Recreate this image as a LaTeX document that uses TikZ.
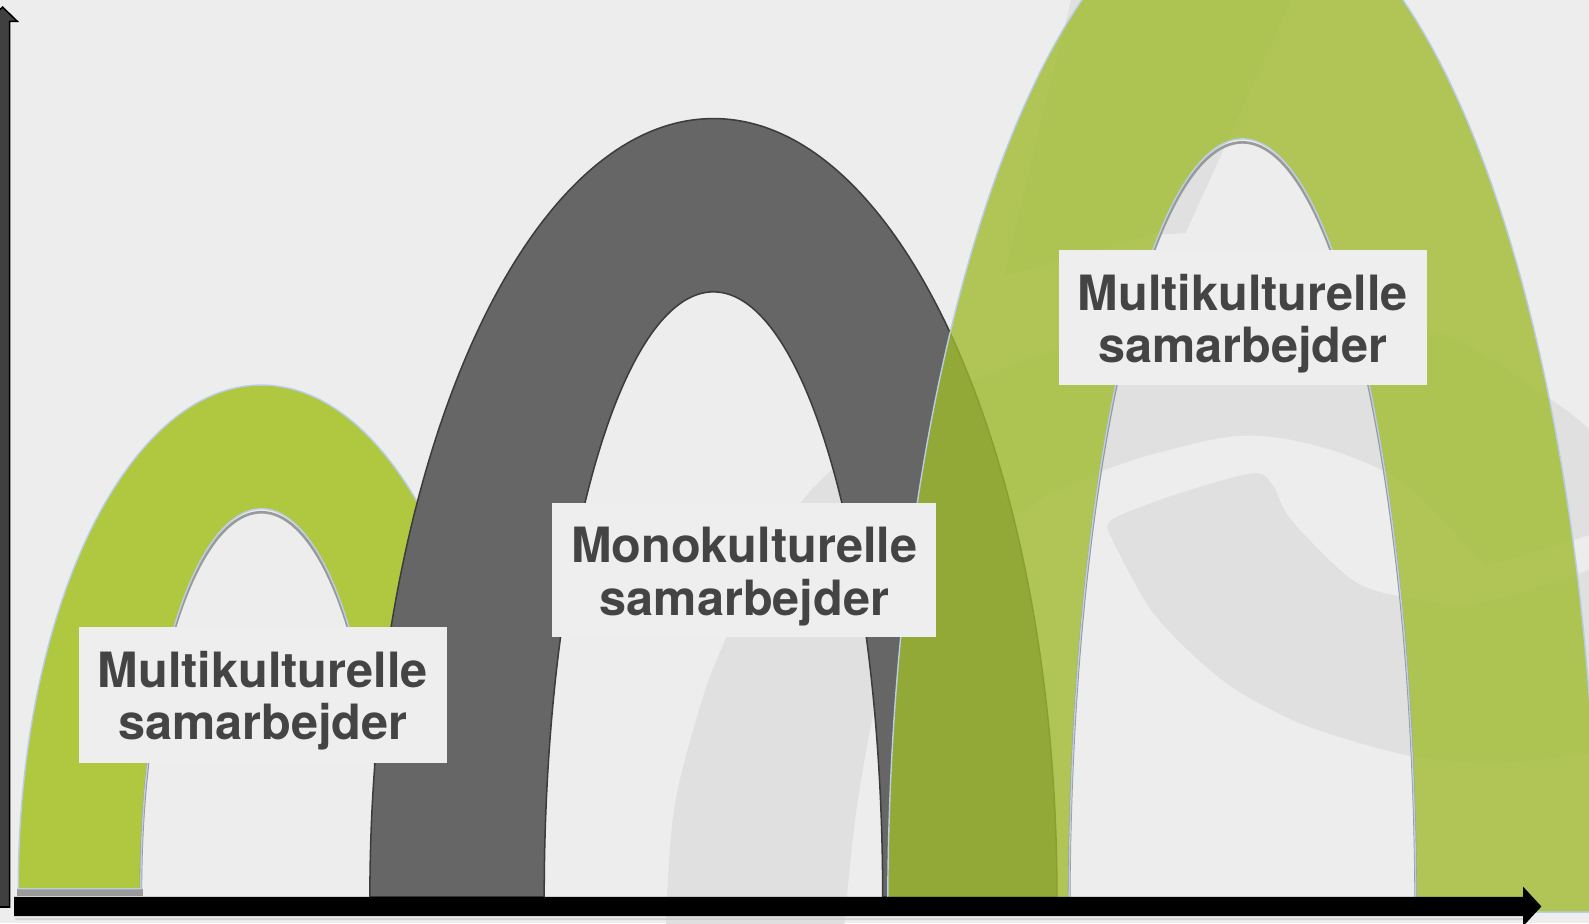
\documentclass[tikz,border=0pt]{standalone}
\usepackage{fontspec}
\setmainfont{TeX Gyre Heros}
\usetikzlibrary{arrows.meta}
\definecolor{bgc}{HTML}{EDEDED}
\definecolor{wmc}{HTML}{E0E0E0}
\definecolor{gleft}{HTML}{AFC840}
\definecolor{gright}{HTML}{9FBB2B}
\definecolor{archgray}{HTML}{666666}
\definecolor{archline}{HTML}{3C3C3C}
\definecolor{edgeblue}{HTML}{B9CDE5}
\definecolor{shadowc}{HTML}{9A9A9A}
\definecolor{boxc}{HTML}{EEEEEE}
\definecolor{txtc}{HTML}{444444}
\definecolor{axisc}{HTML}{404040}
\def\archL{(18,34) arc[start angle=180,end angle=0,x radius=240,y radius=497] -- (377,34) arc[start angle=0,end angle=180,x radius=119,y radius=375] -- cycle}
\def\archM{(365,26) arc[start angle=180,end angle=0,x radius=339,y radius=768] -- (871,26) arc[start angle=0,end angle=180,x radius=167,y radius=597] -- cycle}
\def\archR{(876,11) arc[start angle=180,end angle=0,x radius=350,y radius=1009] -- (1397,11) arc[start angle=0,end angle=180,x radius=171,y radius=763] -- cycle}
\begin{document}
\begin{tikzpicture}[x=1pt,y=1pt,
  wm/.style={fill=wmc},
  labelbox/.style={fill=boxc, draw=none, inner sep=0pt},
  labeltext/.style={text=txtc, font=\fontsize{48}{55}\selectfont\bfseries, inner sep=0pt, anchor=base},
  greenedge/.style={draw=edgeblue, line width=1.4pt},
  innershadow/.style={draw=shadowc, line width=2.6pt, yshift=-3.5pt}
  ]
\useasboundingbox (0,0) rectangle (1568,911);
\clip (0,0) rectangle (1568,911);
\fill[bgc] (0,0) rectangle (1568,911);

% watermark
\fill[wm] plot[smooth, tension=0.6] coordinates {(657,-4) (665,111) (690,211) (712,271) (750,351) (790,415) (850,471) (950,531) (1080,576) (1226,596) (1404,588) (1527,519) (1575,481)}
 -- (1575,385) -- (1467,352)
 -- plot[smooth, tension=0.6] coordinates {(1467,352) (1420,401) (1375,441) (1300,471) (1226,481) (1150,466) (1083,444) (1000,401) (930,331) (880,261) (865,221) (845,111) (833,-4)} -- cycle;
\fill[wm] plot[smooth, tension=0.5] coordinates {(1093,388) (1100,400) (1160,423) (1236,444) (1256,432) (1274,398) (1334,339) (1385,322) (1460,316) (1575,351)}
 -- (1575,168)
 -- plot[smooth, tension=0.5] coordinates {(1575,168) (1477,158) (1399,164) (1341,178) (1274,201) (1206,240) (1138,306) (1093,388)} -- cycle;
\fill[wm] (1058,915) -- (1276,915) -- (1170,681) -- (1135,679) -- (990,638) -- cycle;

% left green arch
\fill[shadowc] (17,27) rectangle (141,34);
\fill[gleft] \archL;
\draw[innershadow] (377,34) arc[start angle=0,end angle=180,x radius=119,y radius=375];
\draw[greenedge] \archL;

% grey arch
\fill[archgray] \archM;
\draw[archline, line width=1.5pt] \archM;

% right green arch (semi-transparent)
\fill[gright, fill opacity=0.78] \archR;
\draw[innershadow] (1397,11) arc[start angle=0,end angle=180,x radius=171,y radius=763];
\draw[greenedge] \archR;

% labels
\node[labelbox, minimum width=363pt, minimum height=134pt] (boxL) at (259.5,225) {};
\node[labeltext] (boxLa) at (259.5,233) {Multikulturelle};
\node[labeltext] (boxLb) at (259.5,181) {samarbejder};
\node[labelbox, minimum width=379pt, minimum height=133pt] (boxM) at (734.5,348.5) {};
\node[labeltext] (boxMa) at (734.5,356) {Monokulturelle};
\node[labeltext] (boxMb) at (734.5,304) {samarbejder};
\node[labelbox, minimum width=363pt, minimum height=133pt] (boxR) at (1226.5,597.5) {};
\node[labeltext] (boxRa) at (1226.5,605) {Multikulturelle};
\node[labeltext] (boxRb) at (1226.5,553) {samarbejder};

% axes
\fill[black!20, opacity=0.7] (16,3) -- (1505,3) -- (1505,5) -- (14,5) -- cycle;
\fill[black] (14,7) -- (1503,7) -- (1503,-3) -- (1521,16.5) -- (1503,36) -- (1503,26) -- (14,26) -- cycle;
\filldraw[fill=axisc, draw=black, line width=1.5pt] (-4,16) -- (9.5,16) -- (9.5,890) -- (17,890) -- (2.5,904) -- (-12,890) -- (-4,890) -- cycle;
\end{tikzpicture}
\end{document}
